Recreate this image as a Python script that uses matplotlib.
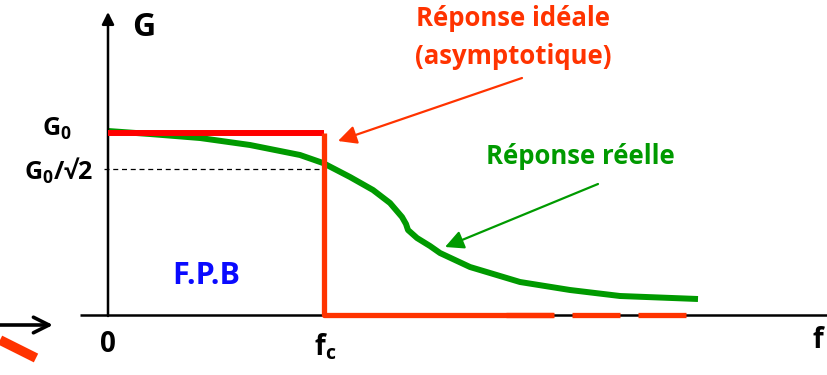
import matplotlib
matplotlib.use('Agg')
import matplotlib.pyplot as plt

plt.rcParams['font.family'] = ['Open Sans', 'DejaVu Sans']
plt.rcParams['font.weight'] = 'bold'
plt.rcParams['mathtext.fontset'] = 'custom'
plt.rcParams['mathtext.rm'] = 'Open Sans:bold'
plt.rcParams['mathtext.it'] = 'Open Sans:bold'
plt.rcParams['mathtext.bf'] = 'Open Sans:bold'

# --- data (pixel units, y downwards) ---
G0 = 133          # level of the ideal response
G0_sqrt2 = 169    # level of G0/sqrt(2)
f0 = 108          # origin
fc = 324          # cut-off frequency
f_base = 315      # level of the f axis

ideal_x = [f0, fc, fc, 553]
ideal_y = [G0, G0, f_base, f_base]
ideal_dash_x = [506, 686]

real_x = [108, 150, 200, 250, 300, 323, 350, 373, 390, 402, 406, 408, 417, 430,
          440, 470, 520, 570, 620, 698]
real_y = [131, 134, 138, 145, 155, 163, 177, 190, 203, 217, 224, 230, 238, 246,
          253, 267, 282, 290, 296, 299]

RED = '#ff3300'
GREEN = '#009a00'
BLUE = '#0a0aff'

fig = plt.figure(figsize=(8.27, 3.75), dpi=100)
ax = fig.add_axes([0, 0, 1, 1])
ax.set_xlim(0, 827)
ax.set_ylim(375, 0)
ax.axis('off')

# axes
ax.plot([80, 827], [f_base, f_base], color='k', lw=1.8, solid_capstyle='butt')
ax.annotate('', xy=(f0, 12), xytext=(f0, f_base + 1),
            arrowprops=dict(arrowstyle='-|>', color='k', lw=1.8,
                            mutation_scale=18, shrinkA=0, shrinkB=0))

# dashed G0/sqrt2 line
ax.plot([f0 - 4, fc], [G0_sqrt2, G0_sqrt2], color='k', lw=0.9, ls=(0, (4, 3)))

# real response (under the ideal one)
ax.plot(real_x, real_y, color=GREEN, lw=4.3, solid_capstyle='butt',
        solid_joinstyle='round', zorder=2)

# ideal response
lw_red = 3.8
ax.plot(ideal_x[:2], ideal_y[:2], color='#ff0000', lw=4.3, solid_capstyle='butt', zorder=3)
ax.plot(ideal_x[1:], ideal_y[1:], color=RED, lw=lw_red, solid_capstyle='butt', zorder=3)
ax.plot(ideal_dash_x, [f_base, f_base], color=RED, lw=lw_red,
        ls=(0, (48 * 0.72 / lw_red, 18 * 0.72 / lw_red)),
        dash_capstyle='butt', zorder=3)

# pointers
ax.annotate('', xy=(338, 141), xytext=(522, 78),
            arrowprops=dict(arrowstyle='-|>', color=RED, lw=1.6,
                            mutation_scale=28, shrinkA=0, shrinkB=0))
ax.annotate('', xy=(445, 247), xytext=(598, 184),
            arrowprops=dict(arrowstyle='-|>', color=GREEN, lw=1.6,
                            mutation_scale=28, shrinkA=0, shrinkB=0))

# bottom-left leftovers
ax.annotate('', xy=(53, 325), xytext=(0, 325),
            arrowprops=dict(arrowstyle='->', color='k', lw=2.6,
                            mutation_scale=28, shrinkA=0, shrinkB=0))
ax.plot([0, 36], [340, 358], color=RED, lw=7, solid_capstyle='butt')

# labels
ax.text(144, 27, 'G', fontsize=23, ha='center', va='center')
ax.text(57, 129, 'G$_0$', fontsize=18, ha='center', va='center')
ax.text(58, 171, 'G$_0$/√2', fontsize=18, ha='center', va='center')
ax.text(108, 344, '0', fontsize=20, ha='center', va='center')
ax.text(325, 347, 'f$_c$', fontsize=20, ha='center', va='center')
ax.text(818, 340, 'f', fontsize=20, ha='center', va='center')
ax.text(206, 276, 'F.P.B', fontsize=22, color=BLUE, ha='center', va='center')
ax.text(513, 19, 'Réponse idéale', fontsize=18.5, color=RED, ha='center', va='center')
ax.text(513, 57, '(asymptotique)', fontsize=18.5, color=RED, ha='center', va='center')
ax.text(580, 157, 'Réponse réelle', fontsize=18.5, color=GREEN, ha='center', va='center')

fig.savefig('out.png', dpi=100)
